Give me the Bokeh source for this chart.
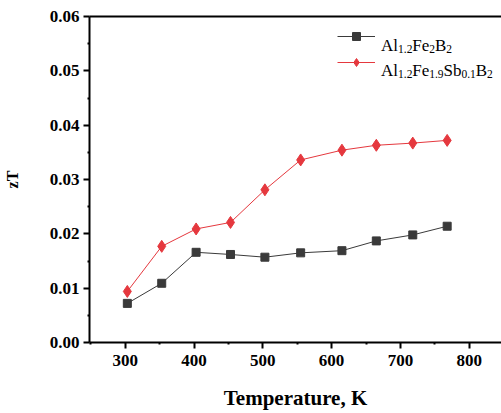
from bokeh.plotting import figure
from bokeh.models import (Range1d, FixedTicker, LinearAxis, Label, Legend,
                          LegendItem, NumeralTickFormatter)
from bokeh.embed import file_html
from bokeh.resources import INLINE

# zT versus temperature for the two boride compositions
temperature = [303, 353, 403, 453, 503, 555, 615, 665, 718, 768]
zt_base = [0.0072, 0.0109, 0.0166, 0.0162, 0.0157, 0.0165, 0.0169, 0.0187, 0.0198, 0.0214]
zt_sb = [0.0094, 0.0177, 0.0209, 0.0221, 0.0281, 0.0336, 0.0354, 0.0363, 0.0367, 0.0372]

x_ticks = [300, 400, 500, 600, 700, 800]
x_minor = [250, 350, 450, 550, 650, 750, 850]
y_ticks = [0.00, 0.01, 0.02, 0.03, 0.04, 0.05, 0.06]
y_minor = [0.005, 0.015, 0.025, 0.035, 0.045, 0.055]

# legend labels as (text, is_subscript) pieces
label_base = [("Al", False), ("1.2", True), ("Fe", False), ("2", True), ("B", False), ("2", True)]
label_sb = [("Al", False), ("1.2", True), ("Fe", False), ("1.9", True), ("Sb", False),
            ("0.1", True), ("B", False), ("2", True)]

SERIF = "Liberation Serif"
BLACK = "#3a3a3a"
RED = "#e5383e"

X0, X1 = 248, 847
Y0, Y1 = 0.0, 0.06

p = figure(width=501, height=413, output_backend="svg", toolbar_location=None,
           x_range=Range1d(X0, X1), y_range=Range1d(Y0, Y1),
           min_border_left=87, min_border_right=0, min_border_top=16, min_border_bottom=71)
p.outline_line_color = None
p.xgrid.visible = False
p.ygrid.visible = False
p.background_fill_color = "white"
p.border_fill_color = "white"

for ax in (p.xaxis[0], p.yaxis[0]):
    ax.axis_line_width = 2
    ax.axis_line_color = "black"
    ax.major_tick_line_width = 2
    ax.major_tick_line_color = "black"
    ax.minor_tick_line_width = 2
    ax.minor_tick_line_color = "black"
    ax.major_tick_in = 0
    ax.major_tick_out = 6
    ax.minor_tick_in = 0
    ax.minor_tick_out = 2
    ax.major_label_text_font = SERIF
    ax.major_label_text_font_style = "bold"
    ax.major_label_text_color = "black"
    ax.axis_label_text_font = SERIF
    ax.axis_label_text_font_style = "bold"
    ax.axis_label_text_color = "black"

p.xaxis.ticker = FixedTicker(ticks=x_ticks, minor_ticks=x_minor)
p.yaxis.ticker = FixedTicker(ticks=y_ticks, minor_ticks=y_minor)
p.yaxis.formatter = NumeralTickFormatter(format="0.00")
p.xaxis.major_label_text_font_size = "17px"
p.yaxis.major_label_text_font_size = "17px"
p.xaxis.major_label_standoff = 6
p.yaxis.major_label_standoff = 4
p.xaxis.axis_label = "Temperature, K"
p.xaxis.axis_label_text_font_size = "21px"
p.xaxis.axis_label_standoff = 17
p.yaxis.axis_label = "zT"
p.yaxis.axis_label_text_font_size = "16px"
p.yaxis.axis_label_standoff = 26

# plain line along the top edge of the frame
top = LinearAxis(ticker=FixedTicker(ticks=[]), major_label_text_font_size="0px",
                 axis_line_width=2, axis_line_color="black",
                 major_tick_line_color=None, minor_tick_line_color=None)
p.add_layout(top, "above")

l1 = p.line(temperature, zt_base, line_color=BLACK, line_width=1)
m1 = p.scatter(temperature, zt_base, marker="square", size=8,
               fill_color=BLACK, line_color=BLACK)
l2 = p.line(temperature, zt_sb, line_color=RED, line_width=1)
m2 = p.scatter(temperature, zt_sb, marker="diamond", size=12,
               fill_color=RED, line_color=RED)

legend = Legend(items=[LegendItem(label=" ", renderers=[l1, m1]),
                       LegendItem(label=" ", renderers=[l2, m2])],
                location=(248, 270), glyph_width=38, glyph_height=20,
                label_height=20, label_width=1, spacing=6, padding=0, margin=0,
                border_line_color=None, background_fill_alpha=0,
                label_text_font_size="1px")
p.add_layout(legend)

# rich legend text drawn piece by piece, with subscripts
ADV = {"A": 0.722, "l": 0.278, "F": 0.556, "e": 0.444, "B": 0.667, "S": 0.556,
       "b": 0.5, ".": 0.25}
MAIN, SUB = 17, 11.5
px_x = (X1 - X0) / 414.0
px_y = (Y1 - Y0) / 326.0


def place_label(pieces, left_px, base_px):
    x = left_px
    for text, sub in pieces:
        size = SUB if sub else MAIN
        drop = 3.5 if sub else 0
        p.add_layout(Label(x=X0 + (x - 87) * px_x, y=Y1 - (base_px + drop - 16) * px_y,
                           text=text, text_font=SERIF, text_font_size=f"{size}px",
                           text_color="black", text_baseline="alphabetic",
                           text_align="left"))
        x += sum(ADV.get(c, 0.5) for c in text) * size


place_label(label_base, 380, 45)
place_label(label_sb, 380, 70)

open("out.html", "w").write(file_html(p, INLINE))
